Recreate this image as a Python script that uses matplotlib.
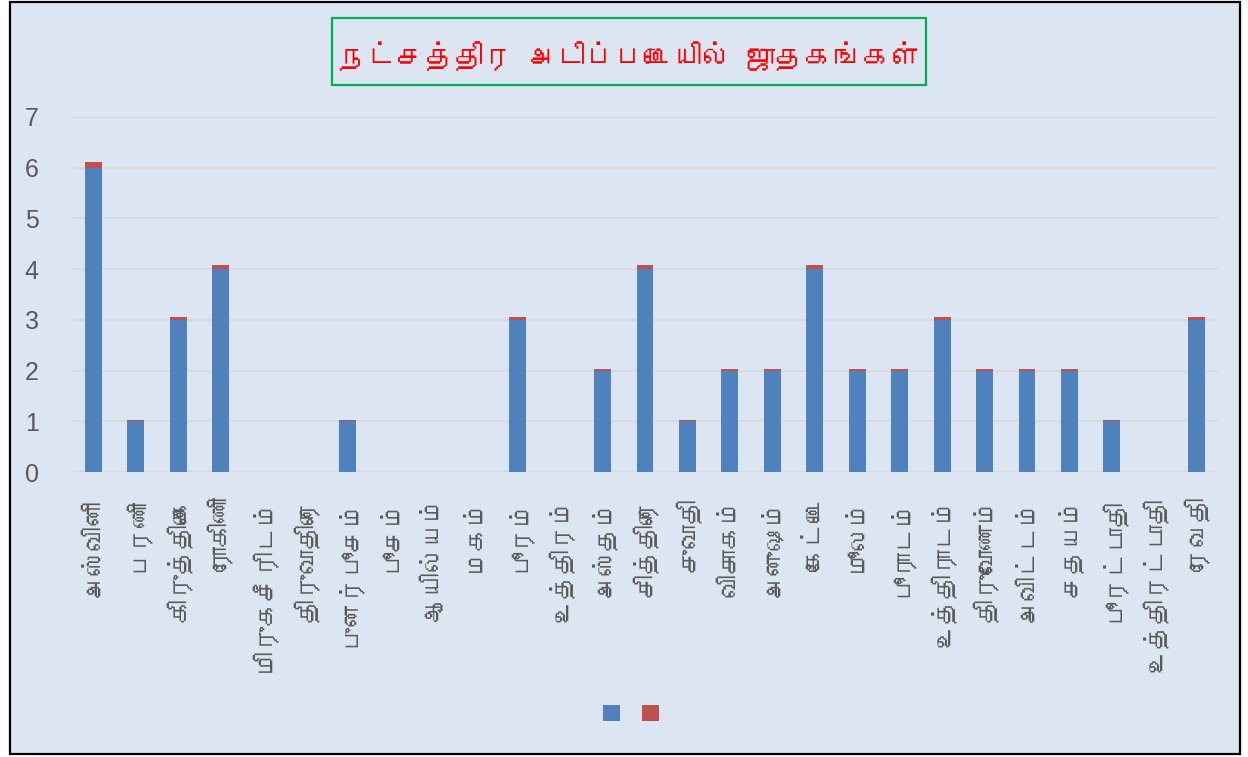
import matplotlib
matplotlib.use('Agg')
import matplotlib.pyplot as plt
from matplotlib import font_manager as fm
from matplotlib.patches import Rectangle, Patch

# ---------------- data ----------------
stars = ["அஸ்வினி", "பரணி", "கிருத்திகை", "ரோகிணி", "மிருகசீரிடம்", "திருவாதிரை",
         "புனர்பூசம்", "பூசம்", "ஆயில்யம்", "மகம்", "பூரம்", "உத்திரம்", "அஸ்தம்",
         "சித்திரை", "சுவாதி", "விசாகம்", "அனுஷம்", "கேட்டை", "மூலம்", "பூராடம்",
         "உத்திராடம்", "திருவோணம்", "அவிட்டம்", "சதயம்", "பூரட்டாதி", "உத்திரட்டாதி", "ரேவதி"]
series1 = [6, 1, 3, 4, 0, 0, 1, 0, 0, 0, 3, 0, 2, 4, 1, 2, 2, 4, 2, 2, 3, 2, 2, 2, 1, 0, 3]
series2 = [0.12, 0.02, 0.06, 0.08, 0, 0, 0.02, 0, 0, 0, 0.06, 0, 0.04, 0.08, 0.02, 0.04,
           0.04, 0.08, 0.04, 0.04, 0.06, 0.04, 0.04, 0.04, 0.02, 0, 0.06]
yticks = [0, 1, 2, 3, 4, 5, 6, 7]
title = "நட்சத்திர அடிப்படையில் ஜாதகங்கள்"

# ---------------- fonts ----------------
def find_tamil_font():
    try:
        from fontTools.ttLib import TTFont
    except Exception:
        return None
    for f in sorted(fm.findSystemFonts()):
        try:
            tt = TTFont(f, fontNumber=0, lazy=True)
            cmap = tt.getBestCmap()
            if cmap and 0x0B95 in cmap and 0x0BBF in cmap and 0x0BCD in cmap:
                return f
        except Exception:
            continue
    return None

tamil_path = find_tamil_font()
tamil_family = []
if tamil_path:
    try:
        fm.fontManager.addfont(tamil_path)
        tamil_family = [fm.FontProperties(fname=tamil_path).get_name()]
    except Exception:
        tamil_family = []
label_family = tamil_family + ['Liberation Sans', 'DejaVu Sans']
plt.rcParams['font.family'] = label_family

W, H = 1248, 757
fig = plt.figure(figsize=(W / 100, H / 100), dpi=100, facecolor='white')

# outer chart area with border
fig.patches.append(Rectangle((10 / W, 1 - 754 / H), (1240 - 10) / W, (754 - 2) / H,
                             transform=fig.transFigure, facecolor='#DCE6F2',
                             edgecolor='black', linewidth=1.6, zorder=-5))

ax = fig.add_axes([72 / W, 1 - 472 / H, (1218 - 72) / W, (472 - 117) / H])
ax.set_facecolor('none')
ax.set_zorder(2)

x = list(range(len(stars)))
ax.bar(x, series1, width=0.4, color='#4F81BD', zorder=3)
ax.bar(x, series2, width=0.4, bottom=series1, color='#C0504D', zorder=3)

ax.set_xlim(-0.5, len(stars) - 0.5)
ax.set_ylim(0, 7)
ax.set_yticks(yticks)
ax.yaxis.grid(True, color='#D9D9D9', linewidth=1.4, zorder=0)
ax.set_axisbelow(True)
for s in ax.spines.values():
    s.set_visible(False)
ax.tick_params(axis='both', length=0)
ax.tick_params(axis='y', pad=24, labelsize=18, labelcolor='#595959')
for t in ax.get_yticklabels():
    t.set_fontfamily(['Liberation Sans', 'DejaVu Sans'])
ax.set_xticks(x)
ax.set_xticklabels(stars, rotation=90, fontsize=18, color='#595959', va='top', ha='center')
ax.tick_params(axis='x', pad=18)

# title box
fig.patches.append(Rectangle((332 / W, 1 - 85 / H), (926 - 332) / W, (85 - 18) / H,
                             transform=fig.transFigure, facecolor='none',
                             edgecolor='#00B050', linewidth=1.6, zorder=1))
fig.text(629 / W, 1 - 56 / H, title, ha='center', va='center', fontsize=21,
         fontweight='bold', color='#FF0000', family=label_family, zorder=3)

# legend (series without names)
handles = [Patch(facecolor='#4F81BD'), Patch(facecolor='#C0504D')]
fig.legend(handles, ['', ''], loc='center', bbox_to_anchor=(631 / W, 1 - 713 / H), ncol=2,
           frameon=False, handlelength=1.0, handleheight=1.0, fontsize=12.5,
           columnspacing=1.25, handletextpad=0.0)

fig.savefig('out.png', dpi=100, facecolor='white')
